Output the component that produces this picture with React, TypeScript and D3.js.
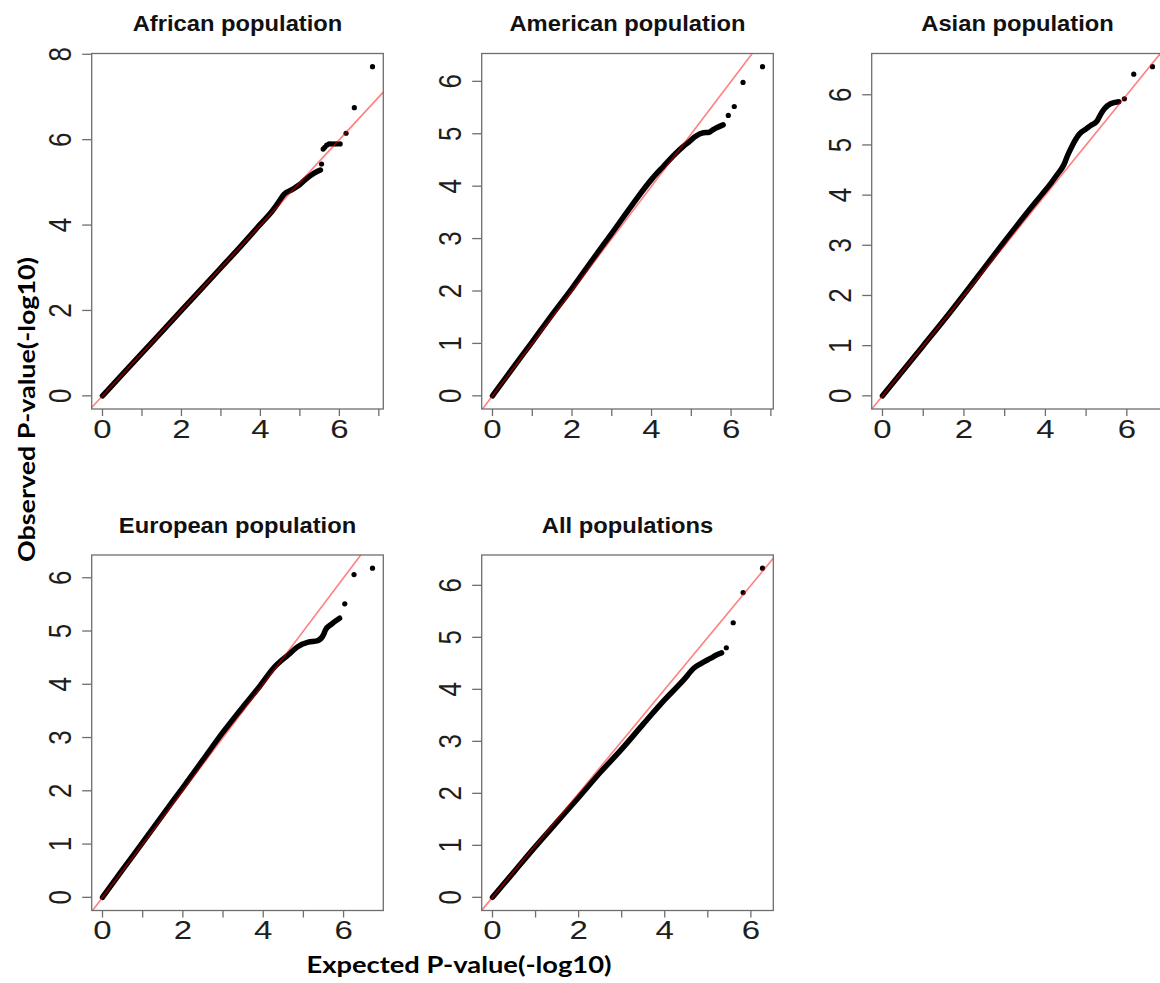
import React, { useEffect, useRef } from "react";
import * as d3 from "d3";

// panel titles, in reading order
const panelTitles = [
  "African population",
  "American population",
  "Asian population",
  "European population",
  "All populations",
];

// dense part of each QQ curve: [expected, observed] in -log10(p)
const africanBody = [
  [0, 0], [0.5, 0.5], [1, 1], [1.5, 1.5], [2, 2], [2.5, 2.5], [3, 3], [3.5, 3.5],
  [4, 4.02], [4.3, 4.33], [4.45, 4.52], [4.55, 4.66], [4.6, 4.72], [4.8, 4.83],
  [5.0, 4.95], [5.13, 5.06], [5.3, 5.18], [5.45, 5.26], [5.52, 5.29],
];
// sparse top end, drawn as separate dots
const africanTail = [
  [5.55, 5.43], [5.59, 5.78], [5.63, 5.82], [5.68, 5.87], [5.74, 5.9], [5.8, 5.9],
  [5.87, 5.9], [5.94, 5.9], [6.02, 5.9], [6.17, 6.15], [6.38, 6.75], [6.84, 7.71],
];

const americanBody = [
  [0, 0], [0.5, 0.52], [1, 1.03], [1.5, 1.55], [2, 2.05], [2.5, 2.58], [3, 3.1],
  [3.5, 3.63], [4, 4.13], [4.3, 4.38], [4.6, 4.62], [4.8, 4.76], [4.95, 4.85],
  [5.1, 4.95], [5.3, 5.02], [5.45, 5.03], [5.55, 5.08], [5.65, 5.12], [5.8, 5.17],
];
const americanTail = [[5.93, 5.35], [6.08, 5.52], [6.3, 5.98], [6.79, 6.28]];

const asianBody = [
  [0, 0], [0.5, 0.5], [1, 1], [1.5, 1.5], [2, 2.02], [2.5, 2.55], [3, 3.08],
  [3.5, 3.6], [3.9, 4.0], [4.12, 4.22], [4.3, 4.42], [4.45, 4.6], [4.55, 4.8],
  [4.65, 4.97], [4.75, 5.12], [4.85, 5.23], [5.0, 5.32], [5.1, 5.38], [5.27, 5.48],
  [5.35, 5.6], [5.45, 5.72], [5.6, 5.82], [5.8, 5.86],
];
const asianTail = [[5.94, 5.92], [6.17, 6.41], [6.63, 6.56]];

const europeanBody = [
  [0, 0], [0.5, 0.52], [1, 1.03], [1.5, 1.55], [2, 2.06], [2.5, 2.58], [3, 3.1],
  [3.5, 3.58], [3.87, 3.92], [4.29, 4.33], [4.62, 4.55], [4.87, 4.71], [5.12, 4.79],
  [5.36, 4.82], [5.5, 4.93], [5.55, 5.02], [5.7, 5.13], [5.9, 5.24],
];
const europeanTail = [[6.03, 5.51], [6.26, 6.06], [6.72, 6.18]];

const allBody = [
  [0, 0], [0.5, 0.49], [1, 0.98], [1.5, 1.45], [2, 1.92], [2.5, 2.4], [3, 2.85],
  [3.5, 3.33], [4, 3.8], [4.45, 4.19], [4.68, 4.41], [4.85, 4.5], [5.07, 4.6],
  [5.2, 4.66], [5.32, 4.7],
];
const allTail = [[5.43, 4.8], [5.59, 5.28], [5.82, 5.86], [6.27, 6.33]];

// axis ticks (R draws every integer but only labels the even ones on x)
const xTickValues = [0, 1, 2, 3, 4, 5, 6, 7];
const xTickLabels = ["0", "", "2", "", "4", "", "6", ""];
const yTicksAfrican = [0, 2, 4, 6, 8];
const yTicksOther = [0, 1, 2, 3, 4, 5, 6];

const xAxisTitle = "Expected P-value(-log10)";
const yAxisTitle = "Observed P-value(-log10)";

const W = 1160;
const H = 983;
const BOX_W = 291.6;
const BOX_H = 355.5;
const colLeft = [91.7, 481.7, 871.7];
const rowTop = [53.5, 555];

const App = () => {
  const svgRef = useRef(null);

  useEffect(() => {
    const svg = d3.select(svgRef.current);
    svg.selectAll("*").remove();

    const panels = [
      { title: panelTitles[0], body: africanBody, tail: africanTail, yTicks: yTicksAfrican, col: 0, row: 0 },
      { title: panelTitles[1], body: americanBody, tail: americanTail, yTicks: yTicksOther, col: 1, row: 0 },
      { title: panelTitles[2], body: asianBody, tail: asianTail, yTicks: yTicksOther, col: 2, row: 0 },
      { title: panelTitles[3], body: europeanBody, tail: europeanTail, yTicks: yTicksOther, col: 0, row: 1 },
      { title: panelTitles[4], body: allBody, tail: allTail, yTicks: yTicksOther, col: 1, row: 1 },
    ];

    const lineColor = "#6e6e6e";
    const textColor = "#1e1e1e";
    const panelFont = "'Liberation Sans', Arial, Helvetica, sans-serif";

    panels.forEach((p, i) => {
      const left = colLeft[p.col];
      const top = rowTop[p.row];
      const pts = p.body.concat(p.tail);

      // R style 4% padding around the data range
      const [xa, xb] = d3.extent(pts, (d) => d[0]);
      const [ya, yb] = d3.extent(pts, (d) => d[1]);
      const xPad = 0.04 * (xb - xa);
      const yPad = 0.04 * (yb - ya);
      const x = d3.scaleLinear().domain([xa - xPad, xb + xPad]).range([left, left + BOX_W]);
      const y = d3.scaleLinear().domain([ya - yPad, yb + yPad]).range([top + BOX_H, top]);

      const clipId = `clip-${i}`;
      svg.append("clipPath").attr("id", clipId)
        .append("rect")
        .attr("x", left).attr("y", top)
        .attr("width", BOX_W).attr("height", BOX_H);

      const plot = svg.append("g").attr("clip-path", `url(#${clipId})`);

      // the dense cloud of points reads as a thick black band
      const band = d3.line()
        .x((d) => x(d[0]))
        .y((d) => y(d[1]))
        .curve(d3.curveMonotoneX);
      plot.append("path")
        .datum(p.body)
        .attr("d", band)
        .attr("fill", "none")
        .attr("stroke", "#000")
        .attr("stroke-width", 5.5)
        .attr("stroke-linecap", "round")
        .attr("stroke-linejoin", "round");

      plot.selectAll("circle")
        .data(p.tail)
        .join("circle")
        .attr("cx", (d) => x(d[0]))
        .attr("cy", (d) => y(d[1]))
        .attr("r", 2.6)
        .attr("fill", "#000");

      // y = x reference line, semi transparent red
      const lo = Math.max(x.domain()[0], y.domain()[0]);
      const hi = Math.min(x.domain()[1], y.domain()[1]);
      plot.append("line")
        .attr("x1", x(lo)).attr("y1", y(lo))
        .attr("x2", x(hi)).attr("y2", y(hi))
        .attr("stroke", "rgba(255,0,0,0.5)")
        .attr("stroke-width", 1.6);

      // box
      svg.append("rect")
        .attr("x", left).attr("y", top)
        .attr("width", BOX_W).attr("height", BOX_H)
        .attr("fill", "none")
        .attr("stroke", lineColor)
        .attr("stroke-width", 1.3);

      // x axis
      const xt = xTickValues
        .map((v, k) => ({ v, label: xTickLabels[k] }))
        .filter((t) => t.v >= x.domain()[0] && t.v <= x.domain()[1]);
      const xg = svg.append("g");
      xg.selectAll("line")
        .data(xt)
        .join("line")
        .attr("x1", (d) => x(d.v)).attr("x2", (d) => x(d.v))
        .attr("y1", top + BOX_H).attr("y2", top + BOX_H + 7)
        .attr("stroke", lineColor)
        .attr("stroke-width", 1.3);
      xg.selectAll("text")
        .data(xt.filter((d) => d.label !== ""))
        .join("text")
        .attr("transform", (d) => `translate(${x(d.v)},${top + BOX_H + 28.5}) scale(1.27,1)`)
        .attr("text-anchor", "middle")
        .style("font-family", panelFont)
        .style("font-size", "26px")
        .attr("fill", textColor)
        .text((d) => d.label);

      // y axis, labels turned like R's las = 0
      const yt = p.yTicks.filter((v) => v >= y.domain()[0] && v <= y.domain()[1]);
      const yg = svg.append("g");
      yg.selectAll("line")
        .data(yt)
        .join("line")
        .attr("x1", left - 9.5).attr("x2", left)
        .attr("y1", (d) => y(d)).attr("y2", (d) => y(d))
        .attr("stroke", lineColor)
        .attr("stroke-width", 1.3);
      yg.selectAll("text")
        .data(yt)
        .join("text")
        .attr("transform", (d) => `translate(${left - 20.3},${y(d)}) scale(1.22,1) rotate(-90)`)
        .attr("text-anchor", "middle")
        .style("font-family", panelFont)
        .style("font-size", "26px")
        .attr("fill", textColor)
        .text((d) => String(d));

      // title
      svg.append("text")
        .attr("transform", `translate(${left + BOX_W / 2},${top - 22.5}) scale(1.08,1)`)
        .attr("text-anchor", "middle")
        .style("font-family", panelFont)
        .style("font-weight", "bold")
        .style("font-size", "22px")
        .attr("fill", "#111")
        .text(p.title);
    });

    // shared axis titles
    svg.append("text")
      .attr("x", 459)
      .attr("y", 973)
      .attr("text-anchor", "middle")
      .attr("textLength", 305)
      .attr("lengthAdjust", "spacingAndGlyphs")
      .style("font-family", "Lato, 'Open Sans', sans-serif")
      .style("font-weight", "bold")
      .style("font-size", "23px")
      .attr("fill", "#000")
      .text(xAxisTitle);

    svg.append("text")
      .attr("transform", "translate(35,409.5) rotate(-90)")
      .attr("text-anchor", "middle")
      .attr("textLength", 305)
      .attr("lengthAdjust", "spacingAndGlyphs")
      .style("font-family", "Lato, 'Open Sans', sans-serif")
      .style("font-weight", "bold")
      .style("font-size", "23px")
      .attr("fill", "#000")
      .text(yAxisTitle);
  }, []);

  return (
    <svg
      ref={svgRef}
      width={W}
      height={H}
      style={{ position: "absolute", left: 0, top: 0, background: "#fff" }}
    ></svg>
  );
};

export default App;
